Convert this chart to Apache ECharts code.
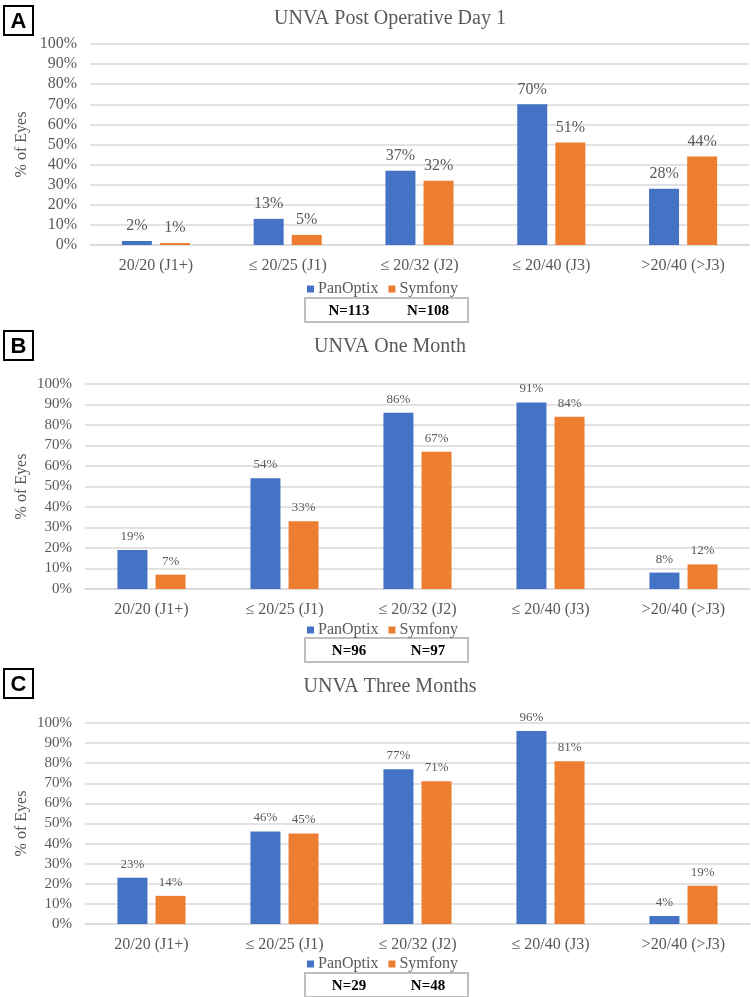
<!DOCTYPE html>
<html>
<head>
<meta charset="utf-8">
<script src="https://cdn.jsdelivr.net/npm/echarts@6/dist/echarts.min.js"></script>
<style>
html,body{margin:0;padding:0;background:#fff;}
#chart{width:751px;height:997px;}
</style>
</head>
<body>
<div id="chart"></div>
<script>
// ---- data ----
var categories = ['20/20 (J1+)', '\u2264 20/25 (J1)', '\u2264 20/32 (J2)', '\u2264 20/40 (J3)', '>20/40 (>J3)'];
var seriesNames = ['PanOptix', 'Symfony'];
var panelLetters = ['A', 'B', 'C'];
var panelTitles = ['UNVA Post Operative Day 1', 'UNVA One Month', 'UNVA Three Months'];
var panOptixDay1 = [2, 13, 37, 70, 28];
var symfonyDay1 = [1, 5, 32, 51, 44];
var panOptixMonth1 = [19, 54, 86, 91, 8];
var symfonyMonth1 = [7, 33, 67, 84, 12];
var panOptixMonth3 = [23, 46, 77, 96, 4];
var symfonyMonth3 = [14, 45, 71, 81, 19];
var nPanOptix = ['N=113', 'N=96', 'N=29'];
var nSymfony = ['N=108', 'N=97', 'N=48'];
var yTicks = [0, 10, 20, 30, 40, 50, 60, 70, 80, 90, 100];
var yAxisTitle = '% of Eyes';

var panelData = [[panOptixDay1, symfonyDay1], [panOptixMonth1, symfonyMonth1], [panOptixMonth3, symfonyMonth3]];

// ---- layout ----
var serif = 'Liberation Serif, Times New Roman, serif';
var grey = '#595959';
var colors = ['#4472C4', '#ED7D31'];
var layout = [
  {left: 90, right: 2, top: 44, height: 201, titleY: 4, letterY: 5, legendY: 281, boxY: 297, labelSize: 16, yLabelSize: 16},
  {left: 85, right: 1, top: 384, height: 205, titleY: 332, letterY: 330, legendY: 622, boxY: 637, labelSize: 13, yLabelSize: 15},
  {left: 85, right: 1, top: 723, height: 201, titleY: 672, letterY: 668, legendY: 956, boxY: 972, labelSize: 13, yLabelSize: 15}
];

var chart = echarts.init(document.getElementById('chart'), null, {renderer: 'canvas'});

var option = {
  animation: false,
  backgroundColor: '#fff',
  color: colors,
  title: [], grid: [], xAxis: [], yAxis: [], legend: [], series: [], graphic: []
};

layout.forEach(function (L, i) {
  option.title.push({
    text: panelTitles[i], left: 385, top: L.titleY, textAlign: 'center',
    textStyle: {fontFamily: serif, fontSize: 20, fontWeight: 'normal', color: grey}
  });
  option.grid.push({left: L.left, right: L.right, top: L.top, height: L.height, containLabel: false});
  option.xAxis.push({
    type: 'category', gridIndex: i, data: categories,
    axisTick: {show: false},
    axisLine: {lineStyle: {color: '#d9d9d9', width: 1.5}},
    axisLabel: {fontFamily: serif, fontSize: 16, color: grey, margin: 13, interval: 0}
  });
  option.yAxis.push({
    type: 'value', gridIndex: i, min: yTicks[0], max: yTicks[yTicks.length - 1], interval: 10,
    axisLine: {show: false}, axisTick: {show: false},
    splitLine: {lineStyle: {color: '#d9d9d9', width: 1.5}},
    axisLabel: {fontFamily: serif, fontSize: L.yLabelSize, color: grey, margin: 13, formatter: '{value}%'}
  });
  option.legend.push({
    data: seriesNames, left: 307, top: L.legendY, padding: 0,
    icon: 'rect', itemWidth: 7, itemHeight: 7, itemGap: 10,
    textStyle: {fontFamily: serif, fontSize: 16, color: grey, padding: [0, 0, 0, -1]},
    selectedMode: false
  });
  seriesNames.forEach(function (name, s) {
    option.series.push({
      type: 'bar', name: name, xAxisIndex: i, yAxisIndex: i,
      data: panelData[i][s],
      barWidth: 30, barGap: '27%',
      itemStyle: {color: colors[s]},
      label: {show: true, position: 'top', distance: 7, formatter: '{c}%',
              fontFamily: serif, fontSize: L.labelSize, color: grey}
    });
  });
  // y-axis title
  option.graphic.push({
    type: 'text', x: 22, y: L.top + L.height / 2, rotation: Math.PI / 2,
    style: {text: yAxisTitle, font: '16px Liberation Serif, Times New Roman, serif',
            fill: grey, textAlign: 'center', textVerticalAlign: 'middle'}
  });
  // panel letter box
  option.graphic.push({
    type: 'group', left: 3, top: L.letterY,
    children: [
      {type: 'rect', shape: {x: 0, y: 0, width: 29, height: 29},
       style: {fill: '#fff', stroke: '#000', lineWidth: 2}},
      {type: 'text', x: 14.5, y: 15.5,
       style: {text: panelLetters[i], font: 'bold 22px Liberation Sans, Arial, sans-serif',
               fill: '#000', textAlign: 'center', textVerticalAlign: 'middle'}}
    ]
  });
  // N box
  option.graphic.push({
    type: 'group', left: 304, top: L.boxY,
    children: [
      {type: 'rect', shape: {x: 0, y: 0, width: 163, height: 24},
       style: {fill: '#fff', stroke: '#bfbfbf', lineWidth: 2}},
      {type: 'text', x: 44, y: 13,
       style: {text: nPanOptix[i], font: 'bold 15px Liberation Serif, Times New Roman, serif',
               fill: '#000', textAlign: 'center', textVerticalAlign: 'middle'}},
      {type: 'text', x: 123, y: 13,
       style: {text: nSymfony[i], font: 'bold 15px Liberation Serif, Times New Roman, serif',
               fill: '#000', textAlign: 'center', textVerticalAlign: 'middle'}}
    ]
  });
});

chart.setOption(option);
</script>
</body>
</html>
